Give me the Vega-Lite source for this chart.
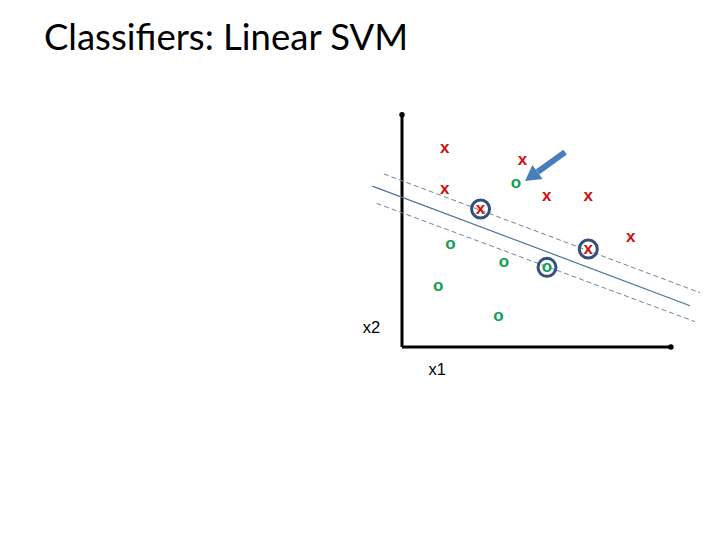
{
  "$schema": "https://vega.github.io/schema/vega-lite/v6.json",
  "width": 720,
  "height": 540,
  "autosize": {"type": "none"},
  "padding": 0,
  "background": "white",
  "config": {"view": {"stroke": null}},
  "datasets": {
    "points": [
      {"x1": 1.58, "x2": 7.36, "cls": "x"},
      {"x1": 4.46, "x2": 6.93, "cls": "x"},
      {"x1": 4.22, "x2": 6.06, "cls": "o"},
      {"x1": 1.58, "x2": 5.84, "cls": "x"},
      {"x1": 5.36, "x2": 5.59, "cls": "x"},
      {"x1": 6.90, "x2": 5.59, "cls": "x"},
      {"x1": 2.91, "x2": 5.11, "cls": "x"},
      {"x1": 8.47, "x2": 4.06, "cls": "x"},
      {"x1": 6.90, "x2": 3.63, "cls": "x"},
      {"x1": 1.79, "x2": 3.81, "cls": "o"},
      {"x1": 3.78, "x2": 3.16, "cls": "o"},
      {"x1": 5.37, "x2": 2.95, "cls": "o"},
      {"x1": 1.34, "x2": 2.27, "cls": "o"},
      {"x1": 3.57, "x2": 1.16, "cls": "o"}
    ],
    "support": [
      {"x1": 2.91, "x2": 5.11},
      {"x1": 6.90, "x2": 3.63},
      {"x1": 5.37, "x2": 2.95}
    ],
    "boundary": [
      {"x1": -1.10, "x2": 5.96},
      {"x1": 10.67, "x2": 1.53}
    ],
    "margins": [
      {"side": "upper", "x1": -0.67, "x2": 6.41},
      {"side": "upper", "x1": 11.04, "x2": 2.01},
      {"side": "lower", "x1": -0.94, "x2": 5.32},
      {"side": "lower", "x1": 10.85, "x2": 0.94}
    ],
    "axes": [
      {"x1": 0, "x2": 0, "x1e": 0, "x2e": 8.6},
      {"x1": 0, "x2": 0, "x1e": 9.96, "x2e": 0}
    ],
    "axisends": [
      {"x1": 0, "x2": 8.6},
      {"x1": 9.96, "x2": 0}
    ],
    "arrow": [
      {"x1": 6.04, "x2": 7.22, "x1e": 5.02, "x2e": 6.48}
    ],
    "arrowhead": [
      {"x1": 4.865, "x2": 6.371}
    ],
    "labels": [
      {"x1": -1.13, "x2": 0.70, "text": "x2"},
      {"x1": 1.30, "x2": -0.85, "text": "x1"}
    ],
    "title": [
      {"x1": -13.26, "x2": 11.0, "text": "Classifiers: Linear SVM"}
    ]
  },
  "encoding": {
    "x": {"field": "x1", "type": "quantitative", "axis": null, "scale": {"domain": [-14.889, 11.778], "nice": false, "zero": false}},
    "y": {"field": "x2", "type": "quantitative", "axis": null, "scale": {"domain": [-7.148, 12.852], "nice": false, "zero": false}}
  },
  "layer": [
    {
      "data": {"name": "axes"},
      "mark": {"type": "rule", "color": "black", "strokeWidth": 3},
      "encoding": {"x2": {"field": "x1e"}, "y2": {"field": "x2e"}}
    },
    {
      "data": {"name": "axisends"},
      "mark": {"type": "point", "filled": true, "color": "black", "size": 30, "opacity": 1}
    },
    {
      "data": {"name": "margins"},
      "mark": {"type": "line", "color": "#6d84a0", "strokeWidth": 1, "strokeDash": [5, 3]},
      "encoding": {"detail": {"field": "side"}}
    },
    {
      "data": {"name": "boundary"},
      "mark": {"type": "line", "color": "#4d729b", "strokeWidth": 1.2}
    },
    {
      "data": {"name": "support"},
      "mark": {"type": "point", "shape": "circle", "filled": false, "color": "#34507a", "size": 324, "strokeWidth": 3, "opacity": 1}
    },
    {
      "data": {"name": "points"},
      "mark": {"type": "text", "font": "Liberation Sans", "fontWeight": "bold", "fontSize": 17, "baseline": "middle", "align": "center"},
      "encoding": {
        "text": {"field": "cls"},
        "color": {"field": "cls", "type": "nominal", "legend": null, "scale": {"domain": ["x", "o"], "range": ["#cc1111", "#10a050"]}}
      }
    },
    {
      "data": {"name": "arrow"},
      "mark": {"type": "rule", "color": "#4a7ebb", "strokeWidth": 6},
      "encoding": {"x2": {"field": "x1e"}, "y2": {"field": "x2e"}}
    },
    {
      "data": {"name": "arrowhead"},
      "mark": {"type": "point", "shape": "M0,-1L0.85,0.5L-0.85,0.5Z", "filled": true, "color": "#4a7ebb", "size": 424, "angle": 234, "opacity": 1}
    },
    {
      "data": {"name": "labels"},
      "mark": {"type": "text", "font": "Liberation Sans", "fontSize": 16.5, "baseline": "middle", "align": "center", "color": "black"},
      "encoding": {"text": {"field": "text"}}
    },
    {
      "data": {"name": "title"},
      "mark": {"type": "text", "font": "Lato", "fontSize": 36.5, "baseline": "alphabetic", "align": "left", "color": "black"},
      "encoding": {"text": {"field": "text"}}
    }
  ]
}
